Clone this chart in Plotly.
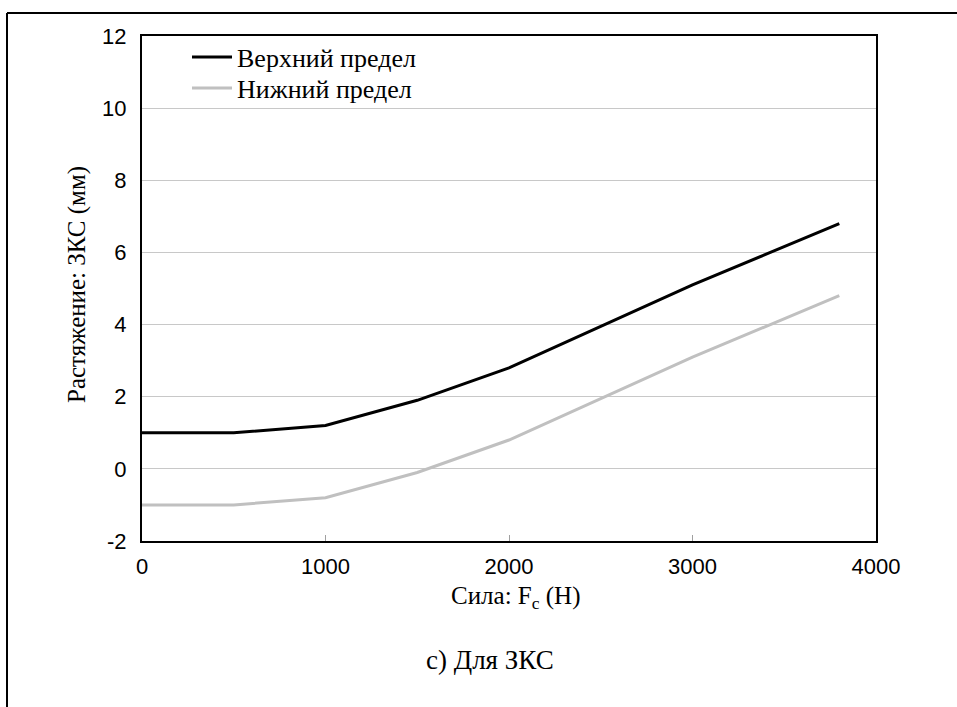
import plotly.graph_objects as go

# Data
force_n = [0, 500, 1000, 1500, 2000, 3000, 3800]
upper_limit = [1.0, 1.0, 1.2, 1.9, 2.8, 5.1, 6.8]
lower_limit = [-1.0, -1.0, -0.8, -0.1, 0.8, 3.1, 4.8]
series_names = ["Верхний предел", "Нижний предел"]
x_ticks = [0, 1000, 2000, 3000, 4000]
y_ticks = [-2, 0, 2, 4, 6, 8, 10, 12]
y_tick_text = ["-2", "0", "2", "4", "6", "8", "10", "12"]

SERIF = "Liberation Serif, Times New Roman, serif"
SANS = "Liberation Sans, Arial, sans-serif"

fig = go.Figure()
fig.add_trace(go.Scatter(x=force_n, y=upper_limit, mode="lines", name=series_names[0],
                         line=dict(color="#000000", width=3), legend="legend"))
fig.add_trace(go.Scatter(x=force_n, y=lower_limit, mode="lines", name=series_names[1],
                         line=dict(color="#c0c0c0", width=3), legend="legend2"))

L, R, T, B = 142, 81, 36, 166
W, H = 957, 707
pw, ph = W - L - R, H - T - B

def px(xp):
    return (xp - L) / pw

def py(yp):
    return (H - B - yp) / ph

leg_common = dict(xanchor="left", yanchor="middle", bgcolor="rgba(0,0,0,0)",
                  font=dict(family=SERIF, size=26, color="black"), itemwidth=40)

fig.update_layout(
    width=W, height=H,
    margin=dict(l=L, r=R, t=T, b=B, pad=0),
    paper_bgcolor="white", plot_bgcolor="white",
    showlegend=True,
    legend=dict(x=px(187), y=py(57), **leg_common),
    legend2=dict(x=px(187), y=py(88), **leg_common),
    xaxis=dict(range=[0, 4000], tickvals=x_ticks, ticks="inside", ticklen=6,
               tickcolor="#a0a0a0", tickwidth=1, ticklabelstandoff=5,
               showgrid=False, zeroline=False, showline=True, linecolor="black",
               linewidth=2, mirror=True,
               tickfont=dict(family=SANS, size=22, color="black")),
    yaxis=dict(range=[-2, 12], tickvals=y_ticks, ticktext=y_tick_text, ticks="",
               ticklabelstandoff=9,
               showgrid=True, gridcolor="#c8c8c8", gridwidth=1, zeroline=False,
               showline=True, linecolor="black", linewidth=2, mirror=True,
               tickfont=dict(family=SANS, size=22, color="black")),
    annotations=[
        dict(text="Сила: F<sub>c</sub> (Н)", x=px(515), y=py(597), xref="paper", yref="paper",
             showarrow=False, xanchor="center", yanchor="middle",
             font=dict(family=SERIF, size=25, color="black")),
        dict(text="Растяжение: ЗКС (мм)", x=px(77), y=py(285), xref="paper", yref="paper",
             showarrow=False, xanchor="center", yanchor="middle", textangle=-90,
             font=dict(family=SERIF, size=25, color="black")),
        dict(text="c) Для ЗКС", x=px(490), y=py(660), xref="paper", yref="paper",
             showarrow=False, xanchor="center", yanchor="middle",
             font=dict(family=SERIF, size=27, color="black")),
    ],
    shapes=[
        dict(type="line", xref="paper", yref="paper", x0=px(7), x1=px(957), y0=py(13), y1=py(13),
             line=dict(color="black", width=2)),
        dict(type="line", xref="paper", yref="paper", x0=px(7), x1=px(7), y0=py(13), y1=py(707),
             line=dict(color="black", width=2)),
    ],
)

fig.write_html("out.html", config={"displayModeBar": False},
               post_script="document.body.style.margin='0';")
